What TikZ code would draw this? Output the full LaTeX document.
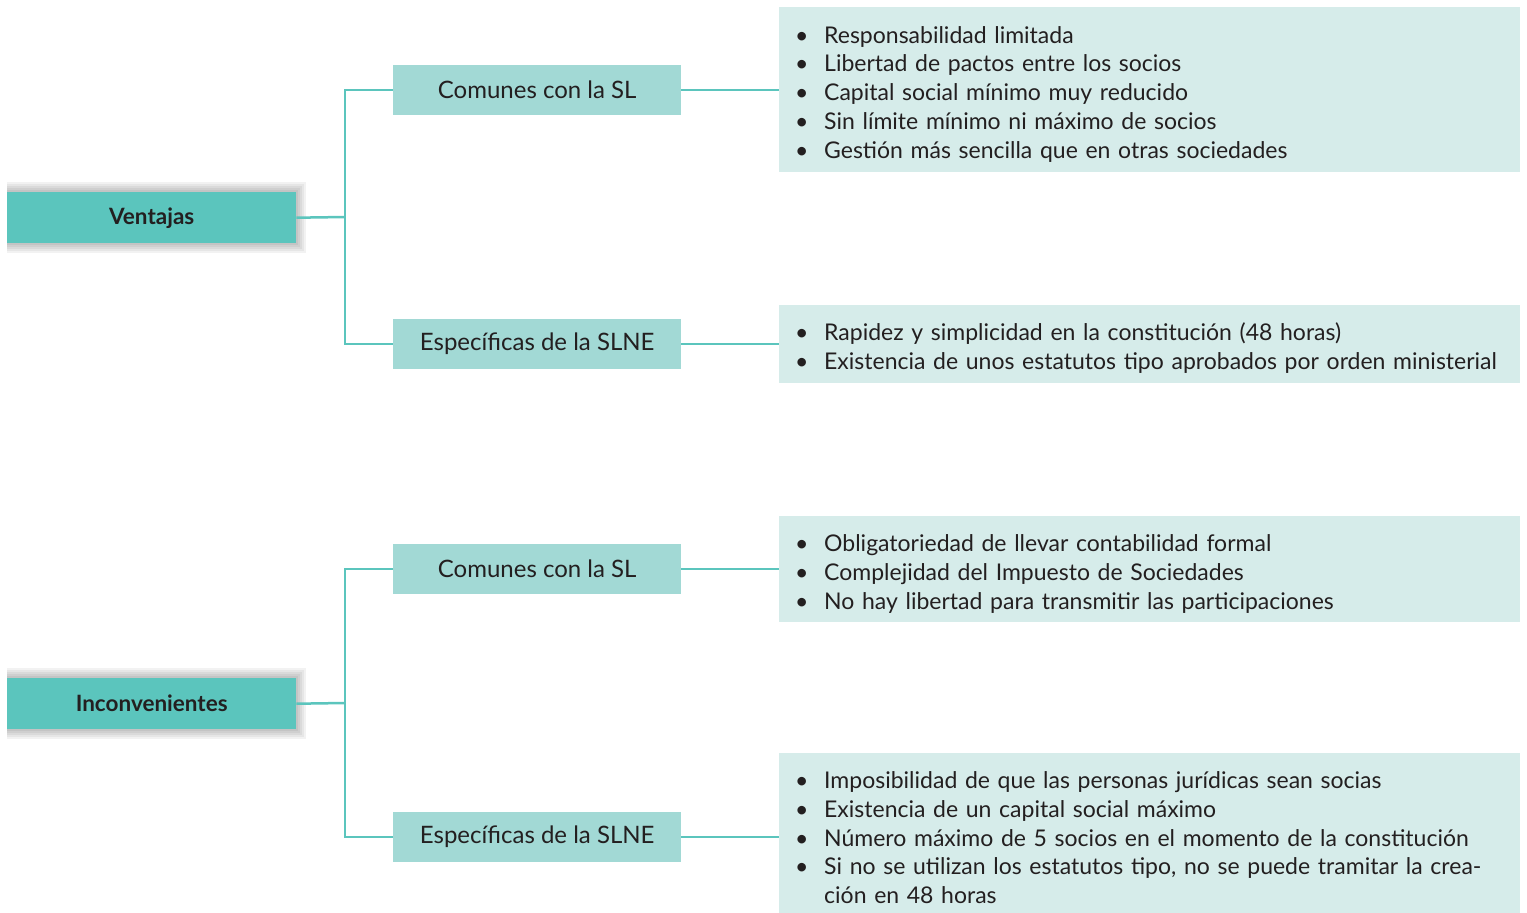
\documentclass[tikz,border=0pt]{standalone}
\usepackage{fontspec}
\setmainfont{Lato}
\definecolor{tealdark}{HTML}{5BC5BD}
\definecolor{tealmid}{HTML}{A2D9D5}
\definecolor{teallight}{HTML}{D6ECEA}
\definecolor{ink}{HTML}{231F20}
\newcommand{\itm}[1]{\makebox[29pt][l]{\hspace*{0pt}•}#1\\}
\newcommand{\firstitm}[1]{\rule{0pt}{26pt}\itm{#1}}
\newcommand{\cont}[1]{\hspace*{29pt}#1\\}
\begin{document}
\begin{tikzpicture}[x=1pt,y=-1pt,
  mainbox/.style={fill=tealdark, minimum width=289pt, minimum height=51pt, inner sep=0pt, text=ink, font=\fontsize{22.5}{26}\selectfont\bfseries, anchor=north west},
  subbox/.style={fill=tealmid, minimum width=288pt, minimum height=50pt, inner sep=0pt, text=ink, font=\fontsize{24}{28}\selectfont, anchor=north west},
  itembox/.style={fill=teallight, text width=709pt, inner xsep=16pt, inner ysep=0pt, align=left, text=ink, font=\fontsize{23}{28.8}\selectfont, anchor=north west},
  link/.style={draw=tealdark, line width=2.5pt}]
\useasboundingbox (0,0) rectangle (1527,913);
% shadows
\foreach \d in {2,4,6,8,10}{
  \fill[black,opacity=0.05] (7,192-\d) rectangle (296+\d,243+\d);
  \fill[black,opacity=0.05] (7,678-\d) rectangle (296+\d,729+\d);
}
\node[mainbox] (V) at (7,192) {Ventajas};
\node[mainbox] (I) at (7,678) {Inconvenientes};
\node[subbox] (VC) at (393,65) {Comunes con la SL};
\node[subbox] (VE) at (393,319) {Específicas de la SLNE};
\node[subbox] (IC) at (393,544) {Comunes con la SL};
\node[subbox] (IE) at (393,812) {Específicas de la SLNE};
\node[itembox, minimum height=165pt] (V1) at (779,7) {%
\firstitm{Responsabilidad limitada}
\itm{Libertad de pactos entre los socios}
\itm{Capital social mínimo muy reducido}
\itm{Sin límite mínimo ni máximo de socios}
\itm{Gestión más sencilla que en otras sociedades}};
\node[itembox, minimum height=78pt] (V2) at (779,305) {%
\firstitm{Rapidez y simplicidad en la constitución (48 horas)}
\itm{Existencia de unos estatutos tipo aprobados por orden ministerial}};
\node[itembox, minimum height=106pt] (I1) at (779,516) {%
\firstitm{Obligatoriedad de llevar contabilidad formal}
\itm{Complejidad del Impuesto de Sociedades}
\itm{No hay libertad para transmitir las participaciones}};
\node[itembox, minimum height=160pt] (I2) at (779,753) {%
\firstitm{Imposibilidad de que las personas jurídicas sean socias}
\itm{Existencia de un capital social máximo}
\itm{Número máximo de 5 socios en el momento de la constitución}
\itm{Si no se utilizan los estatutos tipo, no se puede tramitar la crea-}
\cont{ción en 48 horas}};
\coordinate (vj) at (345,217);
\coordinate (ij) at (345,703);
\draw[link] (V.east) -- (vj);
\draw[link] (vj) |- (VC.west);
\draw[link] (vj) |- (VE.west);
\draw[link] (I.east) -- (ij);
\draw[link] (ij) |- (IC.west);
\draw[link] (ij) |- (IE.west);
\draw[link] (VC.east) -- (VC.east -| V1.west);
\draw[link] (VE.east) -- (VE.east -| V2.west);
\draw[link] (IC.east) -- (IC.east -| I1.west);
\draw[link] (IE.east) -- (IE.east -| I2.west);
\end{tikzpicture}
\end{document}
